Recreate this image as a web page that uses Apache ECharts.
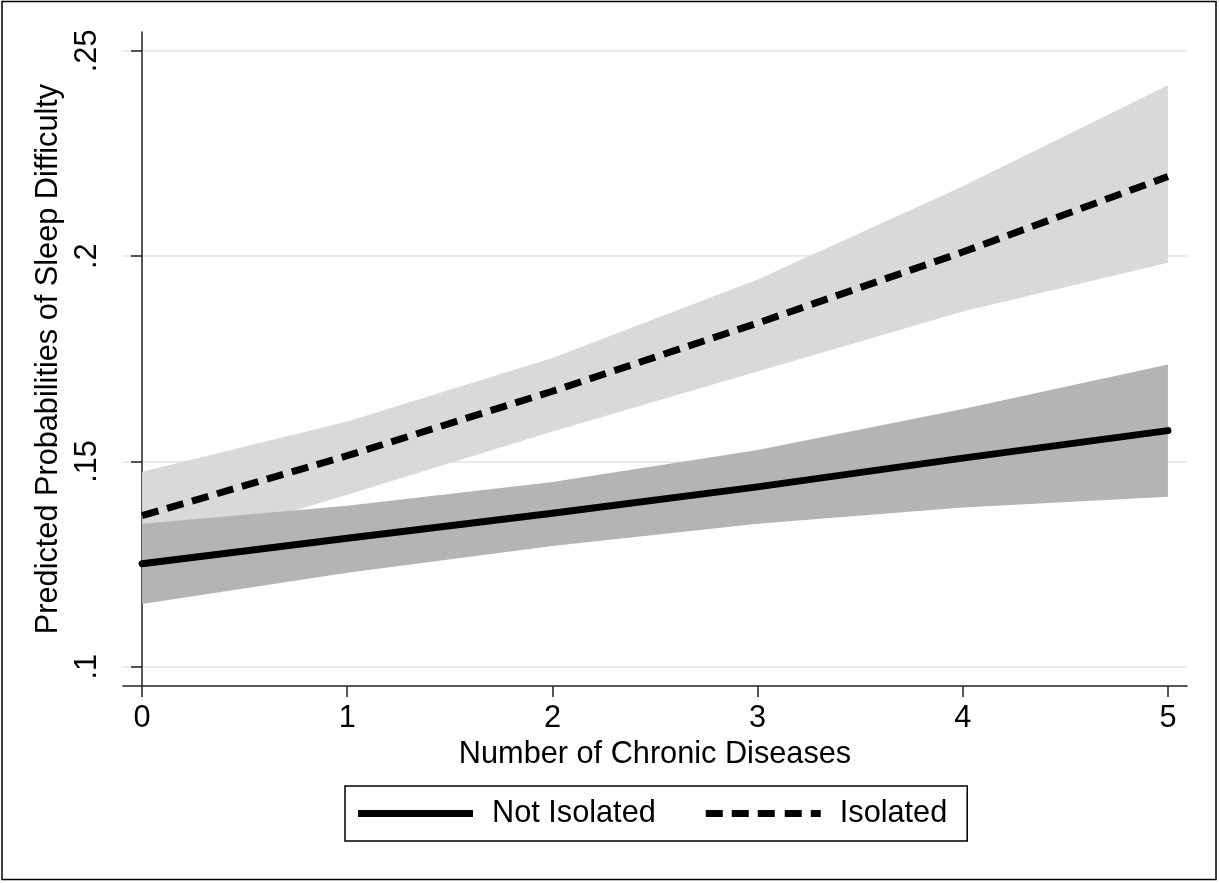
<!DOCTYPE html>
<html>
<head>
<meta charset="utf-8">
<script src="https://cdn.jsdelivr.net/npm/echarts@6/dist/echarts.min.js"></script>
<style>
  html, body { margin: 0; padding: 0; background: #fff; }
  #chart { width: 1220px; height: 883px; }
</style>
</head>
<body>
<div id="chart"></div>
<script>
// ---- data ----
const xValues = [0, 1, 2, 3, 4, 5];
const notIsolated      = [0.1251, 0.1313, 0.1374, 0.1438, 0.1508, 0.1575];
const notIsolatedLower = [0.1153, 0.1229, 0.1294, 0.1348, 0.1388, 0.1414];
const notIsolatedUpper = [0.1348, 0.1392, 0.1450, 0.1528, 0.1628, 0.1736];
const isolated         = [0.1368, 0.1514, 0.1671, 0.1837, 0.2010, 0.2194];
const isolatedLower    = [0.1270, 0.1419, 0.1573, 0.1719, 0.1865, 0.1984];
const isolatedUpper    = [0.1475, 0.1597, 0.1752, 0.1943, 0.2170, 0.2416];
const yTickValues = [0.1, 0.15, 0.2, 0.25];
const yTickLabels = ['.1', '.15', '.2', '.25'];
const xTickValues = [0, 1, 2, 3, 4, 5];
const seriesNames = ['Not Isolated', 'Isolated'];
const xTitle = 'Number of Chronic Diseases';
const yTitle = 'Predicted Probabilities of Sleep Difficulty';

// ---- helpers ----
const pairs = (ys) => xValues.map((x, i) => [x, ys[i]]);
const bandRows = (lo, hi) => xValues.map((x, i) => [x, lo[i], hi[i]]);
const FONT = 'Liberation Sans, Arial, Helvetica, sans-serif';
const FS = 30.7;

function bandRenderer(color) {
  return function (params, api) {
    if (params.dataIndex !== 0) return null;
    const n = xValues.length;
    const upper = [], lower = [];
    for (let i = 0; i < n; i++) {
      const x = api.value(0, i);
      upper.push(api.coord([x, api.value(2, i)]));
      lower.push(api.coord([x, api.value(1, i)]));
    }
    const pts = upper.concat(lower.reverse());
    return {
      type: 'polygon',
      shape: { points: pts },
      style: { fill: color, stroke: null },
      silent: true
    };
  };
}

const chart = echarts.init(document.getElementById('chart'), null, { renderer: 'canvas' });

const solidIcon = 'path://M0,0H115V7H0Z';
const dashIcon = 'path://M0,0H17V7H0Z M26,0H43V7H26Z M52,0H69V7H52Z M79,0H96V7H79Z M105,0H115V7H105Z';

const option = {
  backgroundColor: '#ffffff',
  animation: false,
  textStyle: { fontFamily: FONT },
  grid: { left: 123, right: 33, top: 32, bottom: 197, containLabel: false },
  xAxis: {
    type: 'value',
    min: -0.093,
    max: 5.093,
    name: xTitle,
    nameLocation: 'middle',
    nameGap: 52,
    nameTextStyle: { fontSize: FS, color: '#000', fontFamily: FONT },
    axisLine: { show: true, onZero: false, lineStyle: { color: '#222', width: 1.5 } },
    axisTick: { show: true, length: 11, lineStyle: { color: '#222', width: 1.5 }, customValues: xTickValues },
    axisLabel: { fontSize: FS, color: '#000', margin: 17, fontFamily: FONT, customValues: xTickValues,
      formatter: (v) => String(Math.round(v)) },
    splitLine: { show: false }
  },
  yAxis: {
    type: 'value',
    min: 0.0953,
    max: 0.2546,
    name: yTitle,
    nameLocation: 'middle',
    nameRotate: 90,
    nameGap: 50,
    nameTextStyle: { fontSize: FS, color: '#000', fontFamily: FONT },
    axisLine: { show: true, lineStyle: { color: '#222', width: 1.5 } },
    axisTick: { show: true, length: 11, lineStyle: { color: '#222', width: 1.5 }, customValues: yTickValues },
    axisLabel: { fontSize: FS, color: '#000', margin: 20, rotate: 90, fontFamily: FONT, customValues: yTickValues,
      formatter: (v) => {
        let best = 0;
        yTickValues.forEach((t, i) => { if (Math.abs(t - v) < Math.abs(yTickValues[best] - v)) best = i; });
        return yTickLabels[best];
      } },
    splitLine: { show: true, lineStyle: { color: '#e3edef', width: 2 } }
  },
  legend: {
    left: 345,
    top: 786,
    orient: 'horizontal',
    padding: [12, 20, 12, 13],
    borderColor: '#000',
    borderWidth: 1.5,
    itemWidth: 115,
    itemHeight: 7,
    itemGap: 50,
    textStyle: { fontSize: FS, color: '#000', fontFamily: FONT, padding: [0, 0, 0, 14] },
    data: [
      { name: seriesNames[0], icon: solidIcon, itemStyle: { color: '#000' } },
      { name: seriesNames[1], icon: dashIcon, itemStyle: { color: '#000' } }
    ],
    selectedMode: false
  },
  graphic: [{
    type: 'rect', silent: true, z: 100,
    shape: { x: 2, y: 1.5, width: 1214, height: 878 },
    style: { fill: 'none', stroke: '#000', lineWidth: 1.5 }
  }],
  series: [
    { name: 'Isolated CI', type: 'custom', data: bandRows(isolatedLower, isolatedUpper),
      encode: { x: 0, y: [1, 2] }, renderItem: bandRenderer('#d9d9d9'), silent: true, z: 1, clip: true },
    { name: 'Not Isolated CI', type: 'custom', data: bandRows(notIsolatedLower, notIsolatedUpper),
      encode: { x: 0, y: [1, 2] }, renderItem: bandRenderer('#b4b4b4'), silent: true, z: 2, clip: true },
    { name: seriesNames[0], type: 'line', data: pairs(notIsolated), symbol: 'none', color: '#000',
      lineStyle: { color: '#000', width: 7, cap: 'round', join: 'round' }, silent: true, z: 4 },
    { name: seriesNames[1], type: 'line', data: pairs(isolated), symbol: 'none', color: '#000',
      lineStyle: { color: '#000', width: 7, type: [17, 9], cap: 'butt' }, silent: true, z: 4 }
  ]
};
chart.setOption(option);
</script>
</body>
</html>
